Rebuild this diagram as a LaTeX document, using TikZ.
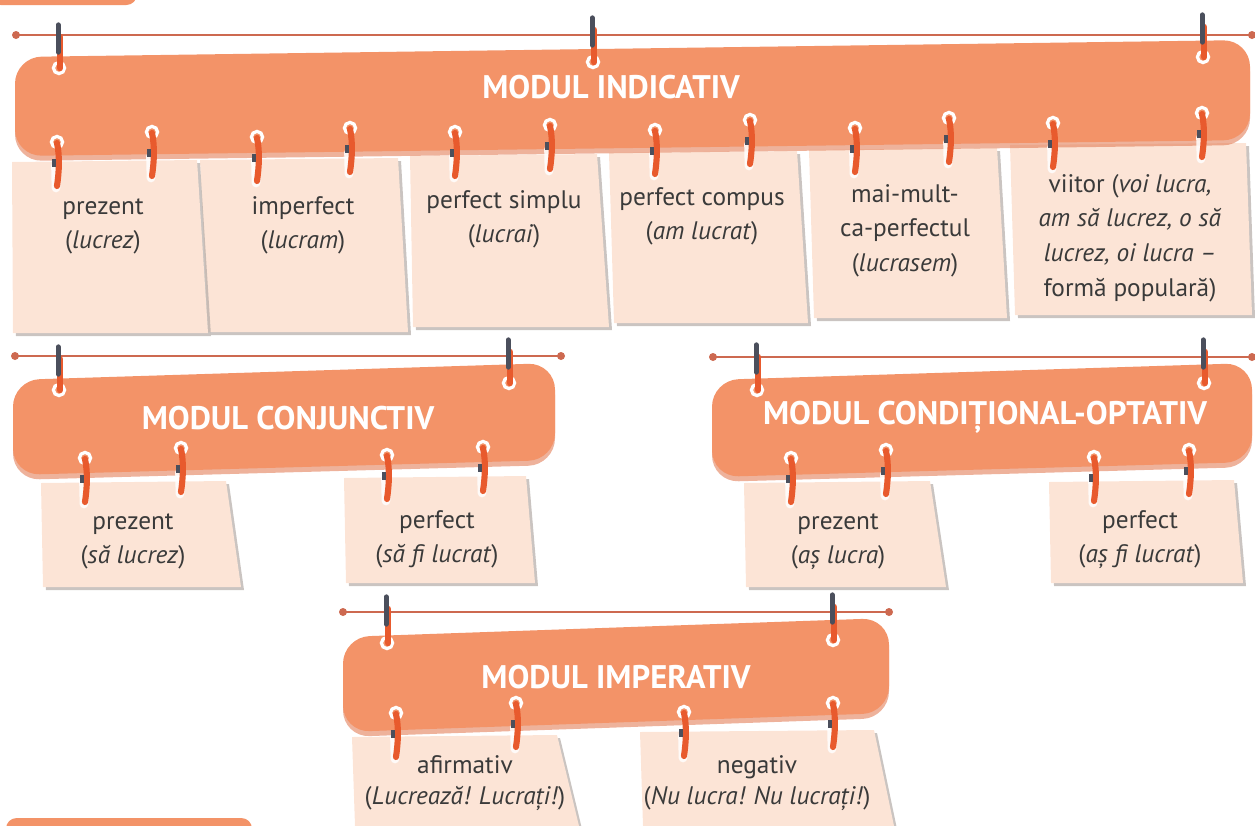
\documentclass[tikz,border=0pt]{standalone}
\usepackage{fontspec}
\setmainfont{PT Sans}
\definecolor{bannerc}{HTML}{F39368}
\definecolor{bannersh}{HTML}{E27E58}
\definecolor{railc}{HTML}{CD6950}
\definecolor{cardc}{HTML}{FCE4D6}
\definecolor{cardsh}{HTML}{B3ABA6}
\definecolor{clipred}{HTML}{E85A2D}
\definecolor{clipdark}{HTML}{4B4F5C}
\definecolor{txtc}{HTML}{3A3A3A}

\newcommand\hookdown[2]{%
  \draw[white, line width=2.4pt] (#1,#2) circle[radius=4.2pt];
  \draw[white, line width=6.5pt, line cap=round, opacity=0.85] (#1-1.5,#2+24) -- (#1-1,#2+46);
  \draw[clipred, line width=4.6pt, line cap=round] (#1,#2+1) .. controls (#1+3,#2+15) and (#1+2,#2+30) .. (#1,#2+44);
  \fill[clipdark] (#1-5.5,#2+17) rectangle (#1-1.5,#2+25);
}
\newcommand\hookup[3]{%
  \draw[white, line width=2.4pt] (#1,#2) circle[radius=4.2pt];
  \draw[clipred, line width=4.8pt, line cap=round] (#1+1,#3+12) -- (#1+1,#2);
  \draw[clipdark, line width=4pt, line cap=round] (#1-0.8,#3) -- (#1-0.8,#3+27);
}
\newcommand\cardpoly[6]{%
  \fill[cardsh, opacity=0.7] (#1+3,#5+3) -- (#3+3,#5+1) -- (#4+3,#6+3) -- (#2+3,#6+3) -- cycle;
  \fill[cardc] (#1,#5) -- (#3,#5-2) -- (#4,#6) -- (#2,#6) -- cycle;
}
\newcommand\railpath[3]{%
  \draw[railc, line width=2.2pt] (#1,#3) -- (#2,#3);
  \fill[railc] (#1,#3) circle[radius=3pt] (#2,#3) circle[radius=3pt];
}
\newcommand\bannerpoly[6]{%
  \fill[bannersh, opacity=0.6, rounded corners=20pt] (#1,#3+5) -- (#2,#4+5) -- (#2,#5+5) -- (#1,#6+5) -- cycle;
  \fill[bannerc, rounded corners=20pt] (#1,#3) -- (#2,#4) -- (#2,#5) -- (#1,#6) -- cycle;
}

\tikzset{
  cardtxt/.style={text=txtc, align=center, inner sep=0pt, anchor=north,
    font=\fontsize{19}{26}\selectfont},
  headtxt/.style={text=white, inner sep=0pt,
    font=\bfseries\fontsize{24.5}{28}\selectfont},
}

\begin{document}
\begin{tikzpicture}[x=0.75pt,y=-0.75pt]
\useasboundingbox (0,0) rectangle (1255,825);

% corner bars
\fill[bannerc, rounded corners=8pt] (-10,-20) rectangle (137,5);
\fill[bannerc, rounded corners=8pt] (6,818) rectangle (252,845);

% ---------- INDICATIV ----------
\cardpoly{1010}{1015}{1246}{1252}{145}{315}
\cardpoly{809}{814}{997}{1007}{150}{318}
\cardpoly{609}{614}{797}{808}{153}{323}
\cardpoly{410}{413}{597}{609}{156}{327}
\cardpoly{200}{208}{398}{408}{160}{332}
\cardpoly{12}{13}{197}{208}{162}{333}
\railpath{16}{1252}{35}
\bannerpoly{15}{1250}{57}{40}{140}{156}
\node[headtxt] (hind) at (611,87) {MODUL INDICATIV};
\hookup{59}{68}{25}
\hookup{593}{62}{18}
\hookup{1203}{57}{15}
\hookdown{57}{142}\hookdown{152}{132}
\hookdown{257}{137}\hookdown{350}{128}
\hookdown{455}{132}\hookdown{550}{125}
\hookdown{655}{130}\hookdown{750}{120}
\hookdown{855}{128}\hookdown{949}{118}
\hookdown{1053}{123}\hookdown{1202}{113}
\node[cardtxt] (i1) at (103,198) {prezent\\(\textit{lucrez})};
\node[cardtxt] (i2) at (303,196) {imperfect\\(\textit{lucram})};
\node[cardtxt] (i3) at (504,190) {perfect simplu\\(\textit{lucrai})};
\node[cardtxt] (i4) at (702,187) {perfect compus\\(\textit{am lucrat})};
\node[cardtxt] (i5) at (905,184) {mai-mult-\\ca-perfectul\\(\textit{lucrasem})};
\node[cardtxt] (i6) at (1130,174) {viitor (\textit{voi lucra,}\\\textit{am să lucrez, o să}\\\textit{lucrez, oi lucra –}\\formă populară)};

% ---------- CONJUNCTIV ----------
\cardpoly{344}{346}{526}{535}{478}{583}
\cardpoly{41}{43}{226}{241}{483}{587}
\railpath{15}{561}{356}
\bannerpoly{13}{555}{380}{363}{460}{475}
\node[headtxt] (hconj) at (288,418) {MODUL CONJUNCTIV};
\hookup{59}{390}{347}
\hookup{509}{383}{340}
\hookdown{85}{458}\hookdown{181}{448}
\hookdown{387}{455}\hookdown{483}{447}
\node[cardtxt] (c1) at (133,513) {prezent\\(\textit{să lucrez})};
\node[cardtxt] (c2) at (437,510) {perfect\\(\textit{să fi lucrat})};

% ---------- CONDITIONAL ----------
\cardpoly{1049}{1051}{1234}{1243}{482}{583}
\cardpoly{744}{746}{930}{946}{483}{587}
\railpath{713}{1252}{357}
\bannerpoly{712}{1252}{380}{363}{462}{477}
\node[headtxt] (hcond) at (985,417) {MODUL CONDIȚIONAL-OPTATIV};
\hookup{757}{390}{345}
\hookup{1204}{383}{340}
\hookdown{791}{458}\hookdown{886}{450}
\hookdown{1094}{457}\hookdown{1189}{450}
\node[cardtxt] (d1) at (838,513) {prezent\\(\textit{aș lucra})};
\node[cardtxt] (d2) at (1140,510) {perfect\\(\textit{aș fi lucrat})};

% ---------- IMPERATIV ----------
\cardpoly{640}{643}{874}{894}{732}{826}
\cardpoly{352}{355}{557}{579}{737}{826}
\railpath{343}{889}{612}
\bannerpoly{343}{889}{637}{618}{713}{732}
\node[headtxt] (himp) at (616,677) {MODUL IMPERATIV};
\hookup{387}{643}{597}
\hookup{833}{640}{595}
\hookdown{396}{713}\hookdown{516}{703}
\hookdown{684}{712}\hookdown{833}{703}
\node[cardtxt, font=\fontsize{19}{23.5}\selectfont] (m1) at (465,755) {afirmativ\\(\textit{Lucrează! Lucrați!})};
\node[cardtxt, font=\fontsize{19}{23.5}\selectfont] (m2) at (757,755) {negativ\\(\textit{Nu lucra! Nu lucrați!})};
\end{tikzpicture}
\end{document}
